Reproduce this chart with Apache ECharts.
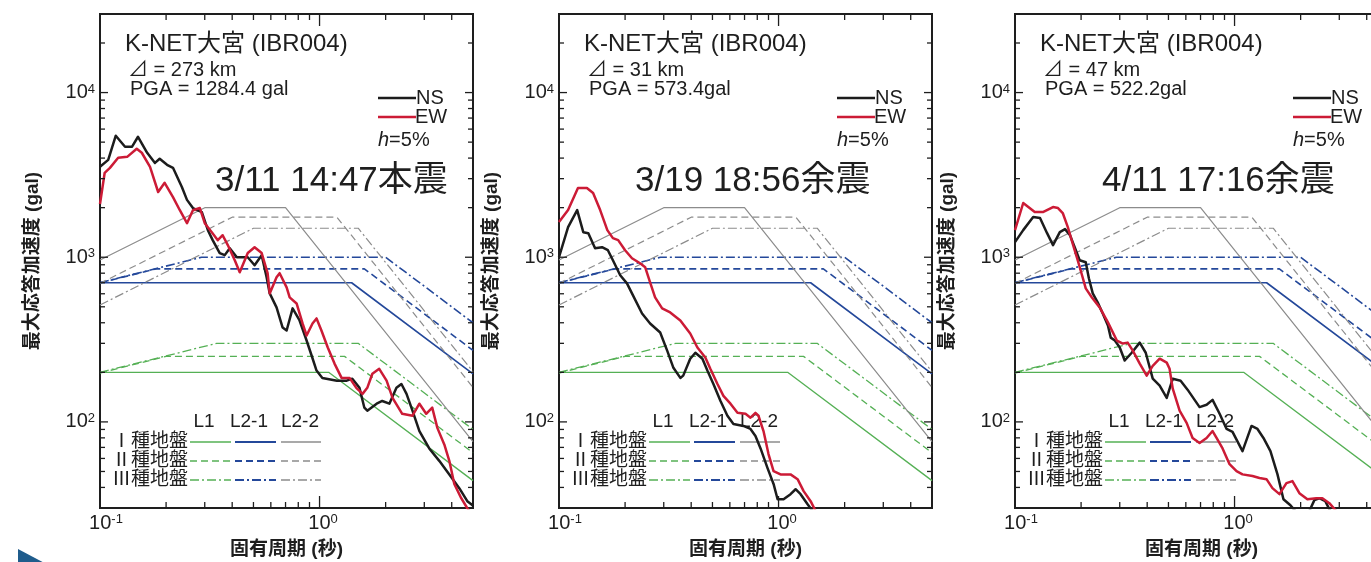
<!DOCTYPE html>
<html>
<head>
<meta charset="utf-8">
<script src="https://cdn.jsdelivr.net/npm/echarts@6/dist/echarts.min.js"></script>
<style>
  html, body { margin: 0; padding: 0; background: #fff; }
  #chart { width: 1371px; height: 562px; }
</style>
</head>
<body>
<div id="chart"></div>
<script>
// ---- data ----
const PERIOD_RANGE = [0.1, 5];
const ACC_RANGE = [30, 30000];
const X_TICKS = [0.2, 0.3, 0.4, 0.5, 0.6, 0.7, 0.8, 0.9, 1, 2, 3, 4];
const Y_TICKS = [40, 50, 60, 70, 80, 90, 100, 200, 300, 400, 500, 600, 700, 800, 900,
  1000, 2000, 3000, 4000, 5000, 6000, 7000, 8000, 9000, 10000, 20000];

const STATION = 'K-NET大宮 (IBR004)';
const EVENTS = ['3/11 14:47本震', '3/19 18:56余震', '4/11 17:16余震'];
const DISTANCES = ['⊿ = 273 km', '⊿ = 31 km', '⊿ = 47 km'];
const PGAS = ['PGA = 1284.4 gal', 'PGA = 573.4gal', 'PGA = 522.2gal'];
const X_NAME = '固有周期 (秒)';
const Y_NAME = '最大応答加速度 (gal)';
const LEVEL_NAMES = ['L1', 'L2-1', 'L2-2'];
const GROUND_NAMES = ['Ⅰ種地盤', 'Ⅱ種地盤', 'Ⅲ種地盤'];

// design spectra, breakpoints [period, gal]
const L1_I = [[0.1, 200], [1.1, 200], [5, 44]];
const L1_II = [[0.1, 198], [0.2, 250], [1.3, 250], [5, 65]];
const L1_III = [[0.1, 200], [0.34, 300], [1.5, 300], [5, 90]];
const L21_I = [[0.1, 700], [1.4, 700], [5, 196]];
const L21_II = [[0.1, 698], [0.18, 850], [1.6, 850], [5, 272]];
const L21_III = [[0.1, 701], [0.29, 1000], [2.0, 1000], [5, 400]];
const L22_I = [[0.1, 961], [0.3, 2000], [0.7, 2000], [5, 76]];
const L22_II = [[0.1, 694], [0.4, 1750], [1.2, 1750], [5, 162]];
const L22_III = [[0.1, 513], [0.5, 1500], [1.5, 1500], [5, 202]];

// observed spectra (h=5%)
const NS_0311 = [[0.1, 3540], [0.109, 3900], [0.118, 5470], [0.13, 4690], [0.14, 4690], [0.149, 5390],
  [0.164, 4310], [0.178, 3740], [0.187, 3960], [0.202, 3640], [0.215, 3490], [0.236, 2670], [0.249, 2230],
  [0.265, 1990], [0.291, 1880], [0.31, 1460], [0.326, 1270], [0.351, 1060], [0.37, 1030], [0.39, 1135],
  [0.42, 1000], [0.471, 1000], [0.506, 894], [0.545, 1028], [0.574, 755], [0.593, 603], [0.637, 496],
  [0.679, 374], [0.708, 359], [0.754, 489], [0.811, 413], [0.873, 312], [0.92, 253], [0.969, 205],
  [1.03, 185], [1.2, 178], [1.33, 178], [1.41, 183], [1.52, 161], [1.6, 122], [1.65, 117], [1.82, 129],
  [1.93, 134], [2.08, 129], [2.24, 161], [2.36, 170], [2.49, 148], [2.65, 117], [2.85, 88], [3.16, 69],
  [3.51, 58], [3.9, 48], [4.33, 39.6], [4.71, 33], [4.91, 31.6], [5, 31]];
const EW_0311 = [[0.1, 2105], [0.105, 3250], [0.111, 3490], [0.121, 4015], [0.133, 4070], [0.147, 4560],
  [0.155, 4310], [0.169, 3540], [0.184, 2490], [0.197, 2830], [0.215, 2320], [0.231, 1930], [0.249, 1610],
  [0.265, 1930], [0.285, 1990], [0.3, 1610], [0.323, 1420], [0.344, 1270], [0.362, 1360], [0.382, 1185],
  [0.411, 960], [0.433, 810], [0.471, 1060], [0.506, 1150], [0.545, 1060], [0.58, 800], [0.593, 603],
  [0.637, 755], [0.658, 800], [0.708, 656], [0.731, 570], [0.786, 524], [0.837, 396], [0.873, 335],
  [0.929, 396], [0.969, 425], [1.02, 359], [1.09, 283], [1.17, 226], [1.26, 185], [1.37, 185], [1.47, 161],
  [1.57, 148], [1.65, 161], [1.74, 196], [1.87, 210], [2.02, 178], [2.15, 140], [2.38, 112], [2.65, 109],
  [2.85, 129], [3.06, 112], [3.26, 122], [3.44, 92], [3.7, 73], [3.9, 58], [4.11, 42], [4.42, 34.4],
  [4.71, 29.9], [5, 27]];
const NS_0319 = [[0.1, 1000], [0.11, 1524], [0.121, 1934], [0.129, 1420], [0.136, 1400], [0.146, 1135],
  [0.157, 1151], [0.167, 1103], [0.176, 959], [0.19, 777], [0.204, 694], [0.215, 603], [0.239, 455],
  [0.26, 396], [0.289, 349], [0.311, 271], [0.332, 213], [0.357, 185], [0.368, 191], [0.396, 242],
  [0.418, 263], [0.45, 242], [0.474, 205], [0.505, 170], [0.544, 134], [0.585, 109], [0.623, 97],
  [0.692, 94.5], [0.745, 90.6], [0.785, 82.2], [0.828, 69], [0.891, 52.4], [0.949, 42], [0.99, 33.9],
  [1.054, 33.9], [1.134, 36.4], [1.196, 39], [1.26, 36.4], [1.356, 31.6], [1.43, 28.7], [1.6, 24]];
const EW_0319 = [[0.1, 1635], [0.11, 1934], [0.122, 2635], [0.134, 2635], [0.143, 2456], [0.154, 1934],
  [0.166, 1461], [0.176, 1306], [0.186, 1270], [0.2, 1103], [0.215, 986], [0.234, 919], [0.247, 869],
  [0.26, 704], [0.274, 570], [0.295, 489], [0.321, 462], [0.357, 413], [0.396, 344], [0.427, 283],
  [0.464, 246], [0.489, 210], [0.527, 170], [0.561, 144], [0.604, 129], [0.65, 113.5], [0.707, 112],
  [0.745, 106], [0.785, 113.5], [0.81, 109], [0.854, 88], [0.9, 63.8], [0.949, 50.2], [1.021, 48],
  [1.134, 48], [1.221, 44.9], [1.301, 38], [1.4, 33], [1.476, 28.7], [1.6, 25]];
const NS_0411 = [[0.1, 1235], [0.109, 1461], [0.121, 1754], [0.13, 1729], [0.14, 1400], [0.149, 1184],
  [0.16, 1420], [0.169, 1481], [0.178, 1362], [0.187, 1151], [0.197, 959], [0.21, 932], [0.217, 745],
  [0.226, 603], [0.238, 532], [0.251, 455], [0.265, 385], [0.273, 325], [0.285, 312], [0.3, 283],
  [0.316, 236], [0.34, 263], [0.37, 303], [0.394, 263], [0.424, 183], [0.456, 166], [0.491, 140],
  [0.523, 183], [0.568, 178], [0.611, 157], [0.693, 123], [0.746, 127], [0.794, 136], [0.855, 112],
  [0.92, 90.6], [0.979, 86.9], [1.087, 66.5], [1.195, 94.5], [1.272, 90.6], [1.354, 79.9], [1.457, 66.5],
  [1.569, 48], [1.67, 33.9], [1.797, 31.2], [1.894, 28.7], [2.04, 25], [2.19, 28.7], [2.31, 33.5],
  [2.43, 34.4], [2.59, 33], [2.73, 28.7], [3.0, 22]];
const EW_0411 = [[0.1, 1461], [0.109, 2135], [0.115, 2018], [0.123, 1881], [0.134, 1881], [0.149, 2018],
  [0.157, 1990], [0.165, 1855], [0.174, 1524], [0.184, 1184], [0.193, 959], [0.202, 777], [0.21, 647],
  [0.224, 570], [0.243, 496], [0.265, 402], [0.291, 312], [0.31, 299], [0.326, 303], [0.344, 271],
  [0.37, 226], [0.398, 191], [0.424, 219], [0.456, 242], [0.491, 229], [0.506, 210], [0.523, 159],
  [0.562, 117], [0.605, 98.6], [0.644, 79.9], [0.693, 74.5], [0.746, 79.9], [0.794, 88], [0.828, 79.9],
  [0.882, 69], [0.949, 55.4], [1.021, 50.2], [1.087, 48], [1.207, 46.9], [1.299, 45.6], [1.398, 44.9],
  [1.488, 39.6], [1.602, 36.4], [1.723, 42.5], [1.835, 43.7], [1.974, 36.9], [2.147, 33.9], [2.359, 34.4],
  [2.512, 34.4], [2.703, 32.1], [2.908, 28.7], [3.162, 24]];

const NS_SERIES = [NS_0311, NS_0319, NS_0411];
const EW_SERIES = [EW_0311, EW_0319, EW_0411];

// ---- layout & styles ----
const FONT = '"Liberation Sans", Arial, "Noto Sans CJK JP", sans-serif';
const INK = '#1e1e1e';
const GREEN = '#55b055';
const BLUE = '#24489a';
const GRAY = '#8c8c8c';
const NS_COLOR = '#1c1c1c';
const EW_COLOR = '#cc1b36';
const DASHED = [7, 4];
const DASHDOT = [9, 3, 2, 3];

const GRID_LEFTS = [100, 559, 1015];
const GRID_TOP = 14;
const GRID_W = 373;
const GRID_H = 494;
const TITLE_LEFTS = [215, 635, 1102];

const DESIGN = [
  { data: L1_I, color: GREEN, width: 1.3, type: 'solid' },
  { data: L1_II, color: GREEN, width: 1.3, type: DASHED },
  { data: L1_III, color: GREEN, width: 1.3, type: DASHDOT },
  { data: L21_I, color: BLUE, width: 1.6, type: 'solid' },
  { data: L21_II, color: BLUE, width: 1.6, type: DASHED },
  { data: L21_III, color: BLUE, width: 1.6, type: DASHDOT },
  { data: L22_I, color: GRAY, width: 1.2, type: 'solid' },
  { data: L22_II, color: GRAY, width: 1.2, type: DASHED },
  { data: L22_III, color: GRAY, width: 1.2, type: DASHDOT }
];
const LEVEL_COLORS = [GREEN, BLUE, GRAY];
const ROW_TYPES = ['solid', DASHED, DASHDOT];

function isPow10(v) {
  const e = Math.log10(v);
  return Math.abs(e - Math.round(e)) < 1e-6;
}

const RICH = {
  b: { fontSize: 20, lineHeight: 20, fontFamily: FONT, color: INK, verticalAlign: 'bottom' },
  s: { fontSize: 13, lineHeight: 13, fontFamily: FONT, color: INK, verticalAlign: 'top' },
  p1: { width: 7, fontSize: 13 },
  p2: { width: 12, fontSize: 13 }
};

function powLabel(v, padLeft) {
  if (!isPow10(v)) return '';
  const e = Math.round(Math.log10(v));
  const pad = padLeft ? (e < 0 ? '{p2| }' : '{p1| }') : '';
  return pad + '{b|10}{s|' + e + '}';
}

function tickSeries(gi, axis, values) {
  return {
    type: 'custom',
    xAxisIndex: gi,
    yAxisIndex: gi,
    silent: true,
    z: 6,
    data: values.map(v => (axis === 'x' ? [v, ACC_RANGE[0]] : [PERIOD_RANGE[0], v])),
    renderItem(params, api) {
      const style = { stroke: INK, lineWidth: 1.3 };
      if (axis === 'x') {
        const v = api.value(0);
        const len = isPow10(v) ? 12 : 6;
        const b = api.coord([v, ACC_RANGE[0]]);
        const t = api.coord([v, ACC_RANGE[1]]);
        return { type: 'group', children: [
          { type: 'line', shape: { x1: b[0], y1: b[1], x2: b[0], y2: b[1] - len }, style },
          { type: 'line', shape: { x1: t[0], y1: t[1], x2: t[0], y2: t[1] + len }, style }
        ] };
      }
      const v = api.value(1);
      const len = isPow10(v) ? 8 : 5;
      const l = api.coord([PERIOD_RANGE[0], v]);
      const r = api.coord([PERIOD_RANGE[1], v]);
      return { type: 'group', children: [
        { type: 'line', shape: { x1: l[0], y1: l[1], x2: l[0] + len, y2: l[1] }, style },
        { type: 'line', shape: { x1: r[0], y1: r[1], x2: r[0] - len, y2: r[1] }, style }
      ] };
    }
  };
}

function text(x, y, str, size, extra) {
  return {
    type: 'text', x, y, z: 1, silent: true,
    style: Object.assign({ text: str, fontSize: size, fontFamily: FONT, fill: INK,
      align: 'left', verticalAlign: 'middle' }, extra || {})
  };
}

function seg(x1, y1, x2, y2, color, width, type) {
  return {
    type: 'line', z: 1, silent: true,
    shape: { x1, y1, x2, y2 },
    style: { stroke: color, lineWidth: width, lineDash: type === 'solid' ? null : type }
  };
}

function panelGraphics(gi) {
  const L = GRID_LEFTS[gi];
  const els = [];
  els.push(text(L + 25, 44, STATION, 24));
  els.push(text(L + 28, 70, DISTANCES[gi], 20));
  els.push(text(L + 30, 89, PGAS[gi], 20));
  els.push(text(TITLE_LEFTS[gi], 181, EVENTS[gi], 35));

  els.push(seg(L + 278, 98, L + 316, 98, NS_COLOR, 2.5, 'solid'));
  els.push(text(L + 316, 98, 'NS', 20));
  els.push(seg(L + 278, 117, L + 316, 117, EW_COLOR, 2.5, 'solid'));
  els.push(text(L + 315, 117, 'EW', 20));
  els.push(text(L + 278, 140, '{i|h}=5%', 20, {
    rich: { i: { fontStyle: 'italic', fontSize: 20, fontFamily: FONT, fill: INK } }
  }));

  const headX = [L + 104, L + 149, L + 200];
  LEVEL_NAMES.forEach((name, k) => els.push(text(headX[k], 422, name, 19, { align: 'center' })));
  const rowY = [442, 461, 480];
  const segX = [[L + 90, L + 131], [L + 135, L + 176], [L + 181, L + 221]];
  GROUND_NAMES.forEach((name, r) => {
    els.push(text(L + 88, rowY[r], name, 19, { align: 'right' }));
    LEVEL_COLORS.forEach((c, k) => {
      els.push(seg(segX[k][0], rowY[r], segX[k][1], rowY[r], c, k === 1 ? 1.8 : 1.4, ROW_TYPES[r]));
    });
  });
  return els;
}

function buildOption() {
  const grid = GRID_LEFTS.map(left => ({
    left, top: GRID_TOP, width: GRID_W, height: GRID_H,
    show: true, borderColor: INK, borderWidth: 2, backgroundColor: 'transparent',
    outerBoundsMode: 'none'
  }));

  const xAxis = GRID_LEFTS.map((_, i) => ({
    type: 'log', logBase: 10, gridIndex: i,
    min: PERIOD_RANGE[0], max: PERIOD_RANGE[1],
    axisLine: { show: false }, axisTick: { show: false }, splitLine: { show: false },
    axisLabel: { margin: 5, showMaxLabel: false, formatter: v => powLabel(v, true), rich: RICH },
    name: X_NAME, nameLocation: 'middle', nameGap: 32,
    nameTextStyle: { fontSize: 19, fontWeight: 'bold', fontFamily: FONT, color: INK }
  }));

  const yAxis = GRID_LEFTS.map((_, i) => ({
    type: 'log', logBase: 10, gridIndex: i,
    min: ACC_RANGE[0], max: ACC_RANGE[1],
    axisLine: { show: false }, axisTick: { show: false }, splitLine: { show: false },
    axisLabel: { margin: 5, showMinLabel: false, showMaxLabel: false, formatter: v => powLabel(v, false), rich: RICH },
    name: Y_NAME, nameLocation: 'middle', nameRotate: 90, nameGap: 58,
    nameTextStyle: { fontSize: 19, fontWeight: 'bold', fontFamily: FONT, color: INK }
  }));

  const series = [];
  GRID_LEFTS.forEach((_, i) => {
    DESIGN.forEach(d => series.push({
      type: 'line', xAxisIndex: i, yAxisIndex: i, data: d.data,
      symbol: 'none', silent: true, z: 2,
      lineStyle: { color: d.color, width: d.width, type: d.type }
    }));
    series.push({
      name: 'NS', type: 'line', xAxisIndex: i, yAxisIndex: i, data: NS_SERIES[i],
      symbol: 'none', silent: true, z: 4,
      lineStyle: { color: NS_COLOR, width: 2.5, join: 'round' }
    });
    series.push({
      name: 'EW', type: 'line', xAxisIndex: i, yAxisIndex: i, data: EW_SERIES[i],
      symbol: 'none', silent: true, z: 4,
      lineStyle: { color: EW_COLOR, width: 2.5, join: 'round' }
    });
    series.push(tickSeries(i, 'x', X_TICKS));
    series.push(tickSeries(i, 'y', Y_TICKS));
  });

  const graphic = [];
  GRID_LEFTS.forEach((_, i) => graphic.push(...panelGraphics(i)));
  graphic.push({
    type: 'polygon', silent: true,
    shape: { points: [[18, 549], [52, 567], [18, 585]] },
    style: { fill: '#1f5c8c' }
  });

  return {
    animation: false,
    backgroundColor: '#ffffff',
    grid, xAxis, yAxis, series, graphic
  };
}

const chart = echarts.init(document.getElementById('chart'));
chart.setOption(buildOption());
window.addEventListener('resize', () => chart.resize());
</script>
</body>
</html>
